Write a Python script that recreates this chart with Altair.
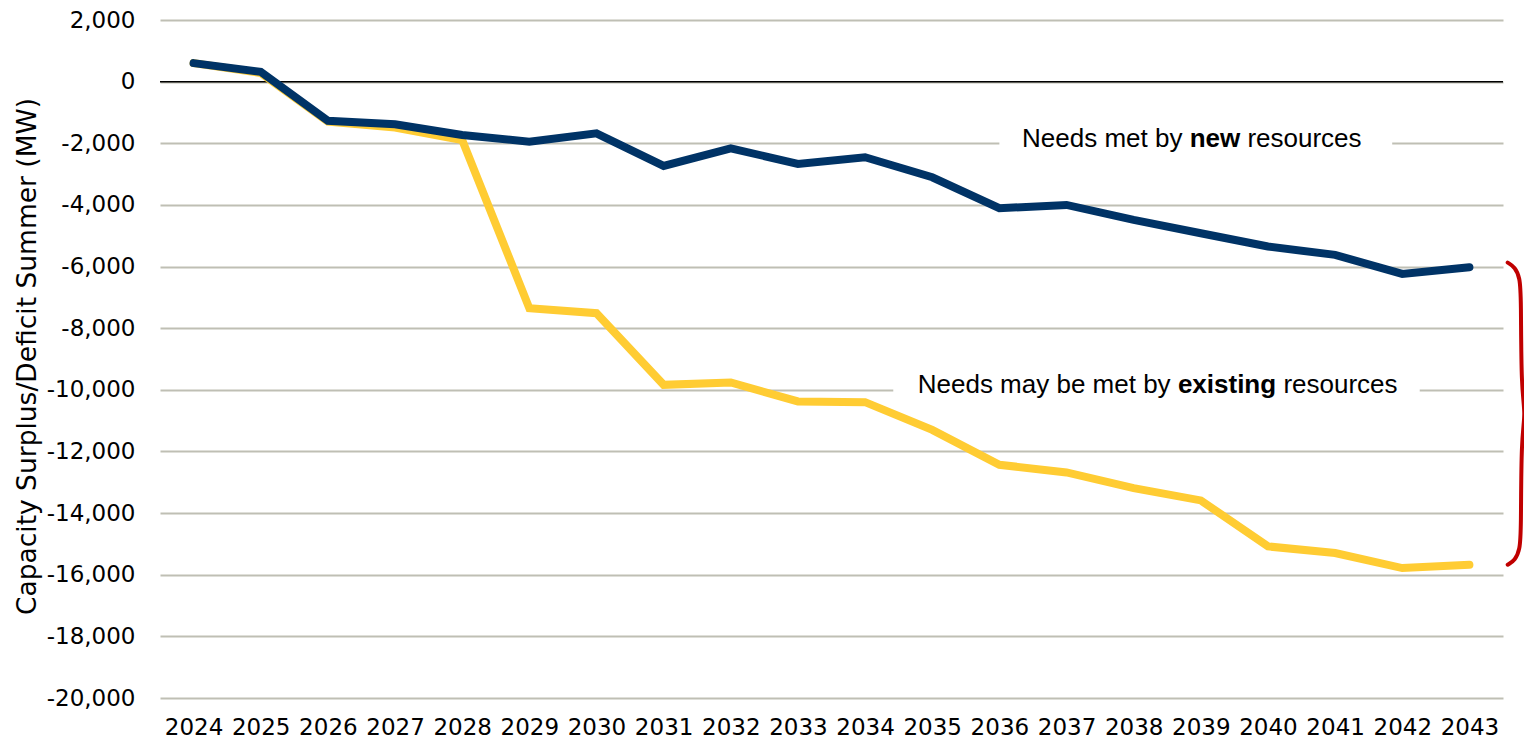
import altair as alt
import pandas as pd

# ---- data ----
years = list(range(2024, 2044))
new_resources = [600, 320, -1270, -1384, -1730, -1950, -1676, -2735, -2162, -2670,
                 -2454, -3103, -4108, -4000, -4486, -4919, -5351, -5622, -6238, -6022]
existing_resources = [600, 280, -1300, -1490, -1892, -7351, -7514, -9838, -9762, -10378,
                      -10400, -11300, -12432, -12681, -13189, -13589, -15081, -15297, -15784, -15676]

y_ticks = list(range(-20000, 2001, 2000))

# annotations: center year of bold word, y value, texts, offset of side texts (px)
ann_x = [2039.21, 2039.39]
ann_y = [-1850, -9850]
ann_left = ["Needs met by", "Needs may be met by"]
ann_bold = ["new", "existing"]
ann_right = ["resources", "resources"]
ann_dx = [32.5, 56.4]
# white boxes behind the annotations (years / MW)
box_x1 = [2036.0, 2034.42]
box_x2 = [2041.85, 2042.26]
box_y1 = [-1300, -9300]
box_y2 = [-2400, -10500]

# brace: fractions along the gap between the two end values, offset in years beyond the last year
brace_t = [0, 0.015, 0.05, 0.11, 0.42, 0.5, 0.58, 0.89, 0.95, 0.985, 1]
brace_dx = [0.57, 0.68, 0.75, 0.77, 0.77, 0.84, 0.77, 0.77, 0.75, 0.68, 0.57]

NAVY = "#003366"
YELLOW = "#FFCC33"
RED = "#C00000"
GRID = "#BFBFB4"
TICK_FONT = "DejaVu Sans"
ANN_FONT = "Liberation Sans"

df = pd.DataFrame({"year": years, "new": new_resources, "existing": existing_resources})

x_scale = alt.Scale(domain=[2023.5, 2043.5], nice=False, zero=False)
y_scale = alt.Scale(domain=[-20000, 2000], nice=False, zero=False)

x_axis = alt.Axis(values=years, format="d", grid=False, domain=False, ticks=False,
                  labelFont=TICK_FONT, labelFontSize=23, labelColor="black",
                  labelPadding=18, labelOverlap=False, labelFlush=False, title=None)
y_axis = alt.Axis(values=y_ticks, format=",d",
                  labelExpr="replace(format(datum.value, ',d'), '\u2212', '-')",
                  grid=True, gridColor=GRID, gridWidth=2,
                  domain=False, ticks=False, labelFont=TICK_FONT, labelFontSize=23,
                  labelColor="black", labelPadding=25,
                  title="Capacity Surplus/Deficit Summer (MW)", titleFont=TICK_FONT,
                  titleFontSize=26.5, titleFontWeight="normal", titleColor="black",
                  titleX=-133, titleY=336, titleAngle=270, titleAlign="center",
                  titleBaseline="middle")

X = lambda f: alt.X(f, scale=x_scale, axis=x_axis)
Y = lambda f: alt.Y(f, scale=y_scale, axis=y_axis)

base = alt.Chart(df)

zero_df = pd.DataFrame({"y": [0]})
zero_rule = alt.Chart(zero_df).mark_rule(color="black", strokeWidth=1.5).encode(
    y=Y("y:Q")
)

box_df = pd.DataFrame({"x1": box_x1, "x2": box_x2, "y1": box_y1, "y2": box_y2})
boxes = alt.Chart(box_df).mark_rect(color="white").encode(
    x=X("x1:Q"), x2="x2:Q", y=Y("y1:Q"), y2="y2:Q",
)

line_existing = base.mark_line(color=YELLOW, strokeWidth=8, strokeCap="round",
                               strokeJoin="miter").encode(x=X("year:Q"), y=Y("existing:Q"))
line_new = base.mark_line(color=NAVY, strokeWidth=8, strokeCap="round",
                          strokeJoin="miter").encode(x=X("year:Q"), y=Y("new:Q"))

ann_df = pd.DataFrame({"x": ann_x, "y": ann_y, "left": ann_left, "bold": ann_bold,
                       "right": ann_right})
text_layers = []
for i in range(len(ann_x)):
    one = alt.Chart(ann_df.iloc[[i]])
    enc = dict(x=X("x:Q"), y=Y("y:Q"))
    text_layers.append(one.mark_text(font=ANN_FONT, fontSize=26, color="black",
                                     align="right", baseline="middle",
                                     dx=-ann_dx[i]).encode(text="left:N", **enc))
    text_layers.append(one.mark_text(font=ANN_FONT, fontSize=26, color="black",
                                     fontWeight="bold", align="center",
                                     baseline="middle").encode(text="bold:N", **enc))
    text_layers.append(one.mark_text(font=ANN_FONT, fontSize=26, color="black",
                                     align="left", baseline="middle",
                                     dx=ann_dx[i]).encode(text="right:N", **enc))

brace_top = new_resources[-1] + 150
brace_bottom = existing_resources[-1]
brace_df = pd.DataFrame({
    "i": list(range(len(brace_t))),
    "x": [years[-1] + d for d in brace_dx],
    "y": [brace_top + t * (brace_bottom - brace_top) for t in brace_t],
})
brace = alt.Chart(brace_df).mark_line(color=RED, strokeWidth=4, interpolate="basis",
                                      strokeCap="round").encode(
    x=X("x:Q"), y=Y("y:Q"), order="i:Q",
)

chart = alt.layer(zero_rule, boxes, line_existing, line_new, *text_layers, brace).properties(
    width=1343, height=678,
    autosize=alt.AutoSizeParams(type="none"),
    padding={"left": 152, "top": 12, "right": 21, "bottom": 42},
).configure_view(stroke=None)

chart.save("out.html", embed_options={"renderer": "svg", "actions": False})
